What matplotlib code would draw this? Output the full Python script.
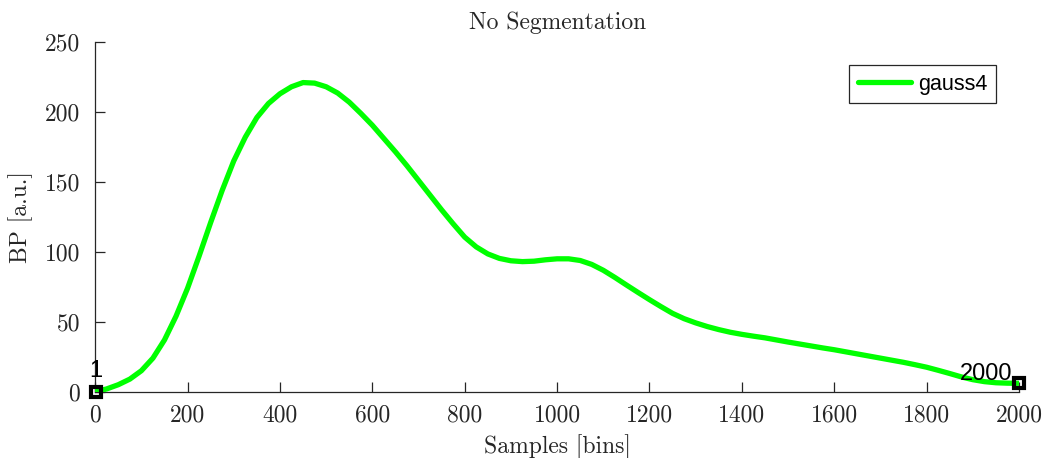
import matplotlib
matplotlib.use("Agg")
import matplotlib.pyplot as plt

# Band power profile (gauss4 fit), sampled every 25 bins
samples = list(range(0, 2001, 25))
bp = [0.0, 2.0, 5.0, 9.0, 15.0, 24.0, 37.0, 54.0, 74.0, 97.0,
      121.0, 144.0, 165.0, 182.0, 196.0, 206.0, 213.0, 218.0, 221.0, 220.6,
      218.0, 213.5, 207.0, 199.0, 190.5, 181.0, 171.5, 161.5, 151.0, 140.5,
      130.0, 120.0, 110.5, 103.5, 98.5, 95.3, 93.6, 93.0, 93.3, 94.3,
      95.0, 95.0, 93.8, 91.0, 86.8, 81.7, 76.3, 71.0, 65.8, 60.8,
      56.0, 52.2, 49.2, 46.6, 44.4, 42.5, 41.0, 39.7, 38.5, 37.0,
      35.5, 34.1, 32.7, 31.3, 30.0, 28.5, 27.0, 25.5, 24.0, 22.5,
      21.0, 19.3, 17.5, 15.3, 13.0, 10.6, 8.6, 7.2, 6.4, 6.1,
      6.0]

# Segment boundary markers
bound_x = [1, 2000]
bound_y = [0.0, 6.0]
bound_text = ["1", "2000"]

xticks = [0, 200, 400, 600, 800, 1000, 1200, 1400, 1600, 1800, 2000]
yticks = [0, 50, 100, 150, 200, 250]

serif = "cmr10"
sans = "Liberation Sans"
axis_color = "#262626"
fs = 17

fig = plt.figure(figsize=(10.5, 4.58), dpi=100)
ax = fig.add_axes([95.2 / 1050, (458 - 391.7) / 458,
                   (1019 - 95.2) / 1050, (391.7 - 42) / 458])

ax.plot(samples, bp, color="#00ff00", lw=3.8, label="gauss4",
        solid_capstyle="round", solid_joinstyle="round", zorder=3)
ax.plot(bound_x, bound_y, ls="none", marker="s", ms=7.5, mew=3.0,
        mec="black", mfc="none", zorder=4, clip_on=False)

ax.text(bound_x[0], 14.8, bound_text[0], family=sans, fontsize=17,
        ha="center", va="center")
ax.text(1985, 12.6, bound_text[1], family=sans, fontsize=17,
        ha="right", va="center")

ax.set_xlim(0, 2000)
ax.set_ylim(0, 250)
ax.set_xticks(xticks)
ax.set_xticklabels([str(t) for t in xticks], family=serif, fontsize=fs)
ax.set_yticks(yticks)
ax.set_yticklabels([str(t) for t in yticks], family=serif, fontsize=fs)

for side in ("top", "right"):
    ax.spines[side].set_visible(False)
for side in ("left", "bottom"):
    ax.spines[side].set_color(axis_color)
    ax.spines[side].set_linewidth(0.9)

ax.tick_params(axis="both", direction="in", length=7.5, width=0.9,
               color=axis_color, labelcolor=axis_color)
ax.tick_params(axis="x", pad=9)
ax.tick_params(axis="y", pad=11)

ax.set_title("No Segmentation", family=serif, fontsize=fs,
             color=axis_color, pad=9)
ax.set_xlabel("Samples [bins]", family=serif, fontsize=fs,
              color=axis_color, labelpad=6)
ax.set_ylabel("BP [a.u.]", family=serif, fontsize=fs,
              color=axis_color, labelpad=8)

leg = ax.legend(loc="upper right", bbox_to_anchor=(0.975, 0.934),
                borderaxespad=0, fancybox=False, framealpha=1,
                edgecolor=axis_color, prop={"family": sans, "size": 15.5},
                handlelength=2.5, handletextpad=0.3, borderpad=0.4)
leg.get_frame().set_linewidth(0.9)

fig.savefig("out.png", dpi=100)
